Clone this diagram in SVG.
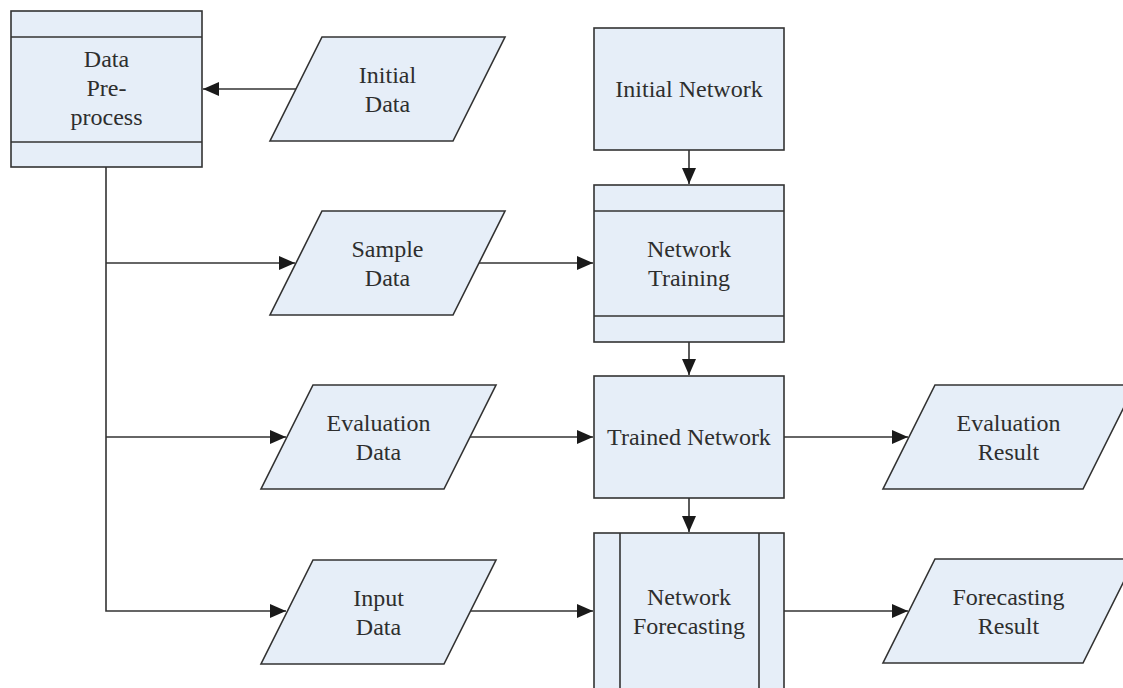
<svg xmlns="http://www.w3.org/2000/svg" width="1123" height="688" viewBox="0 0 1123 688">
<style>
.shape{fill:#E6EEF8;stroke:#333;stroke-width:1.6}
.line{fill:none;stroke:#333;stroke-width:1.6}
.lbl{font-family:'Liberation Serif','Tinos','Times New Roman','DejaVu Serif',serif;font-size:24px;fill:#2e2e2e;text-anchor:middle}
</style>
<defs>
<marker id="arr" markerUnits="userSpaceOnUse" markerWidth="17" markerHeight="15" refX="16" refY="7" orient="auto">
<path d="M0,0 L16,7 L0,14 z" fill="#1a1a1a"/>
</marker>
</defs>
<rect width="1123" height="688" fill="#fff"/>
<g id="connectors">
<path class="line" d="M296,89 H203" marker-end="url(#arr)"/>
<path class="line" d="M106,167 V611 H286" marker-end="url(#arr)"/>
<path class="line" d="M106,263 H295" marker-end="url(#arr)"/>
<path class="line" d="M106,437 H286" marker-end="url(#arr)"/>
<path class="line" d="M478,263 H593" marker-end="url(#arr)"/>
<path class="line" d="M470,437 H593" marker-end="url(#arr)"/>
<path class="line" d="M470,611 H593" marker-end="url(#arr)"/>
<path class="line" d="M689,150 V184" marker-end="url(#arr)"/>
<path class="line" d="M689,342 V375" marker-end="url(#arr)"/>
<path class="line" d="M689,498 V532" marker-end="url(#arr)"/>
<path class="line" d="M784,437 H908" marker-end="url(#arr)"/>
<path class="line" d="M784,611 H908" marker-end="url(#arr)"/>
</g>
<g id="data-preprocess">
<rect class="shape" x="11" y="11" width="191" height="156"/>
<line class="line" x1="11" y1="37" x2="202" y2="37"/>
<line class="line" x1="11" y1="142" x2="202" y2="142"/>
<text class="lbl" font-family="Liberation Serif, serif" x="106.5" y="67">Data</text>
<text class="lbl" font-family="Liberation Serif, serif" x="106.5" y="96">Pre-</text>
<text class="lbl" font-family="Liberation Serif, serif" x="106.5" y="125">process</text>
</g>
<g id="initial-data">
<polygon class="shape" points="322,37 505,37 453,141 270,141"/>
<text class="lbl" x="387.5" y="82.5">Initial</text>
<text class="lbl" x="387.5" y="111.5">Data</text>
</g>
<g id="initial-network">
<rect class="shape" x="594" y="28" width="190" height="122"/>
<text class="lbl" x="689" y="97">Initial Network</text>
</g>
<g id="sample-data">
<polygon class="shape" points="322,211 505,211 453,315 270,315"/>
<text class="lbl" x="387.5" y="256.5">Sample</text>
<text class="lbl" x="387.5" y="285.5">Data</text>
</g>
<g id="network-training">
<rect class="shape" x="594" y="185" width="190" height="157"/>
<line class="line" x1="594" y1="211" x2="784" y2="211"/>
<line class="line" x1="594" y1="316" x2="784" y2="316"/>
<text class="lbl" x="689" y="257">Network</text>
<text class="lbl" x="689" y="286">Training</text>
</g>
<g id="evaluation-data">
<polygon class="shape" points="313,385 496,385 444,489 261,489"/>
<text class="lbl" x="378.5" y="430.5">Evaluation</text>
<text class="lbl" x="378.5" y="459.5">Data</text>
</g>
<g id="trained-network">
<rect class="shape" x="594" y="376" width="190" height="122"/>
<text class="lbl" x="689" y="445">Trained Network</text>
</g>
<g id="evaluation-result">
<polygon class="shape" points="935,385 1135,385 1083,489 883,489"/>
<text class="lbl" x="1008.5" y="430.5">Evaluation</text>
<text class="lbl" x="1008.5" y="459.5">Result</text>
</g>
<g id="input-data">
<polygon class="shape" points="313,560 496,560 444,664 261,664"/>
<text class="lbl" x="378.5" y="605.5">Input</text>
<text class="lbl" x="378.5" y="634.5">Data</text>
</g>
<g id="network-forecasting">
<rect class="shape" x="594" y="533" width="190" height="160"/>
<line class="line" x1="620" y1="533" x2="620" y2="693"/>
<line class="line" x1="759" y1="533" x2="759" y2="693"/>
<text class="lbl" x="689" y="604.5">Network</text>
<text class="lbl" x="689" y="633.5">Forecasting</text>
</g>
<g id="forecasting-result">
<polygon class="shape" points="935,559 1135,559 1083,663 883,663"/>
<text class="lbl" x="1008.5" y="604.5">Forecasting</text>
<text class="lbl" x="1008.5" y="633.5">Result</text>
</g>
</svg>
